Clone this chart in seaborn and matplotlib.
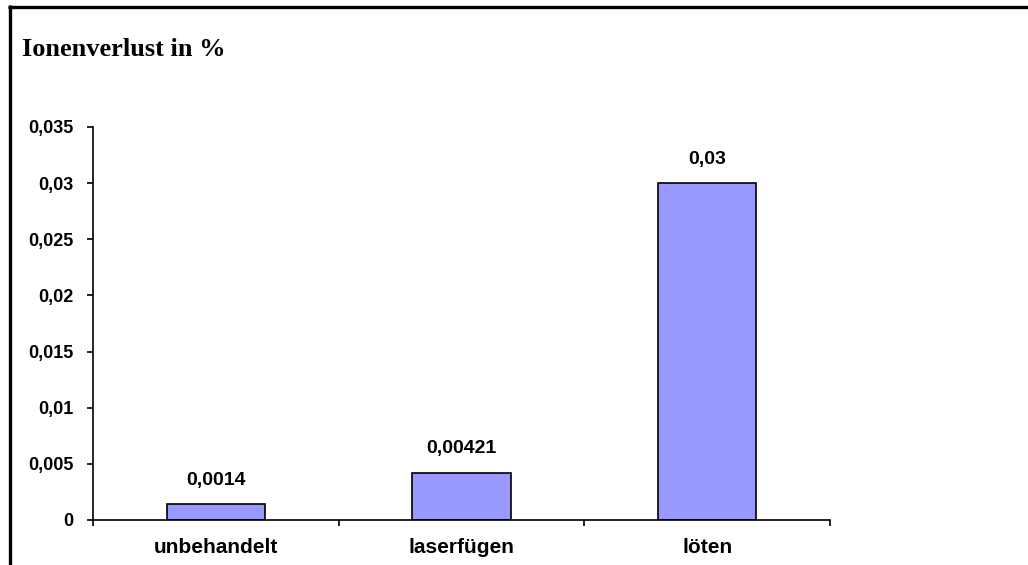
import matplotlib
matplotlib.use("Agg")
import matplotlib.pyplot as plt
import seaborn as sns
import pandas as pd
from matplotlib.ticker import FuncFormatter, FixedLocator
from matplotlib.lines import Line2D

categories = ["unbehandelt", "laserfügen", "löten"]
values = [0.0014, 0.00421, 0.03]
value_labels = ["0,0014", "0,00421", "0,03"]
y_ticks = [0, 0.005, 0.01, 0.015, 0.02, 0.025, 0.03, 0.035]

sns.set_style("white")
plt.rcParams["font.family"] = ["Liberation Sans", "DejaVu Sans"]
plt.rcParams["text.color"] = "black"
plt.rcParams["xtick.color"] = "black"
plt.rcParams["ytick.color"] = "black"
plt.rcParams["xtick.labelcolor"] = "black"
plt.rcParams["ytick.labelcolor"] = "black"

df = pd.DataFrame({"Verfahren": categories, "Ionenverlust": values})

fig = plt.figure(figsize=(10.28, 5.65), dpi=100)
ax = fig.add_axes([93 / 1028, 1 - 520 / 565, (830 - 93) / 1028, (520 - 127) / 565])

sns.barplot(data=df, x="Verfahren", y="Ionenverlust", color="#9999FF",
            saturation=1, width=0.4, edgecolor="black", linewidth=1.2, ax=ax)

ax.set_xlim(-0.5, 2.5)
ax.set_ylim(0, 0.035)
ax.set_yticks(y_ticks)
ax.yaxis.set_major_formatter(FuncFormatter(
    lambda v, _: "0" if abs(v) < 1e-12 else f"{v:g}".replace(".", ",")))

for side in ("top", "right"):
    ax.spines[side].set_visible(False)
for side in ("left", "bottom"):
    ax.spines[side].set_color("black")
    ax.spines[side].set_linewidth(1.2)

ax.tick_params(axis="y", which="major", direction="out", length=4, width=1.2,
               color="black", labelcolor="black", labelsize=13, pad=10, left=True)
ax.tick_params(axis="x", which="major", length=0, labelcolor="black",
               labelsize=15, pad=13)
ax.xaxis.set_minor_locator(FixedLocator([-0.5, 0.5, 1.5, 2.5]))
ax.tick_params(axis="x", which="minor", direction="out", length=4, width=1.2,
               color="black", bottom=True)
for lbl in ax.get_yticklabels() + ax.get_xticklabels():
    lbl.set_fontweight("bold")
ax.set_xlabel("")
ax.set_ylabel("")

for i, (v, t) in enumerate(zip(values, value_labels)):
    ax.annotate(t, (i, v), xytext=(0, 11), textcoords="offset points",
                ha="center", va="bottom", fontsize=14, fontweight="bold",
                color="black")

fig.text(22 / 1028, 1 - 50 / 565, "Ionenverlust in %", ha="left", va="center",
         fontsize=19, fontweight="bold", color="black",
         family=["Liberation Serif", "DejaVu Serif"])

# frame around the chart area: top and left edges
fig.add_artist(Line2D([8 / 1028, 1.01], [1 - 6.5 / 565, 1 - 6.5 / 565],
                      transform=fig.transFigure, color="black", linewidth=2.4,
                      solid_capstyle="butt"))
fig.add_artist(Line2D([9.5 / 1028, 9.5 / 1028], [-0.01, 1 - 5 / 565],
                      transform=fig.transFigure, color="black", linewidth=2.4,
                      solid_capstyle="butt"))

fig.savefig("out.png", dpi=100, facecolor="white", edgecolor="none")
